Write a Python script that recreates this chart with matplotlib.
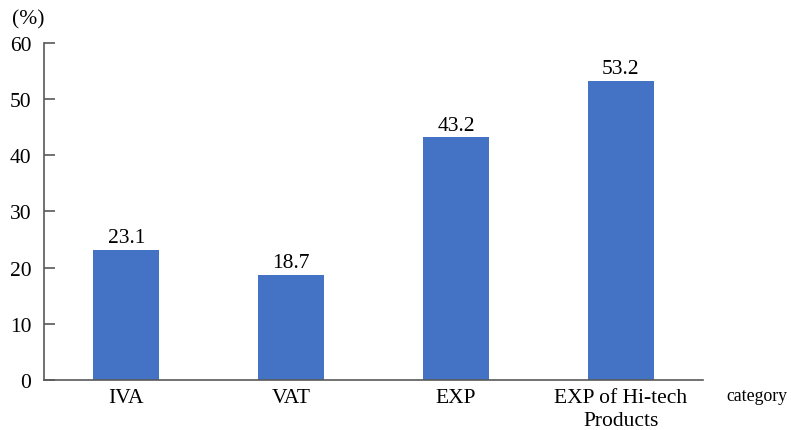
import matplotlib
matplotlib.use("Agg")
import matplotlib.pyplot as plt

plt.rcParams['font.family'] = ['Liberation Serif', 'DejaVu Serif']

categories = ['IVA', 'VAT', 'EXP', 'EXP of Hi-tech\nProducts']
values = [23.1, 18.7, 43.2, 53.2]
yticks = [0, 10, 20, 30, 40, 50, 60]

fs = 15.5

fig = plt.figure(figsize=(7.91, 4.31), dpi=100)
ax = fig.add_axes([0.0556, 0.116, 0.8332, 0.782])

x = range(len(categories))
bars = ax.bar(x, values, width=0.4, color='#4472C4')
for b, v in zip(bars, values):
    ax.text(b.get_x() + b.get_width() / 2, v + 0.5, f'{v:.1f}',
            ha='center', va='bottom', fontsize=fs)

ax.set_xlim(-0.5, 3.5)
ax.set_ylim(0, 60)
ax.set_yticks(yticks)
ax.set_xticks(list(x))
ax.set_xticklabels(categories, fontsize=fs, linespacing=1.25)
ax.tick_params(axis='x', length=0, pad=6)
ax.tick_params(axis='y', direction='in', length=8, width=1.2, color='#595959',
               labelsize=fs, pad=9)

for s in ['top', 'right']:
    ax.spines[s].set_visible(False)
for s in ['left', 'bottom']:
    ax.spines[s].set_color('#595959')
    ax.spines[s].set_linewidth(1.2)

fig.text(0.015, 0.953, '(%)', fontsize=fs, va='center')
fig.text(0.995, 0.079, 'category', fontsize=12.8, va='center', ha='right')

fig.savefig('out.png', dpi=100)
